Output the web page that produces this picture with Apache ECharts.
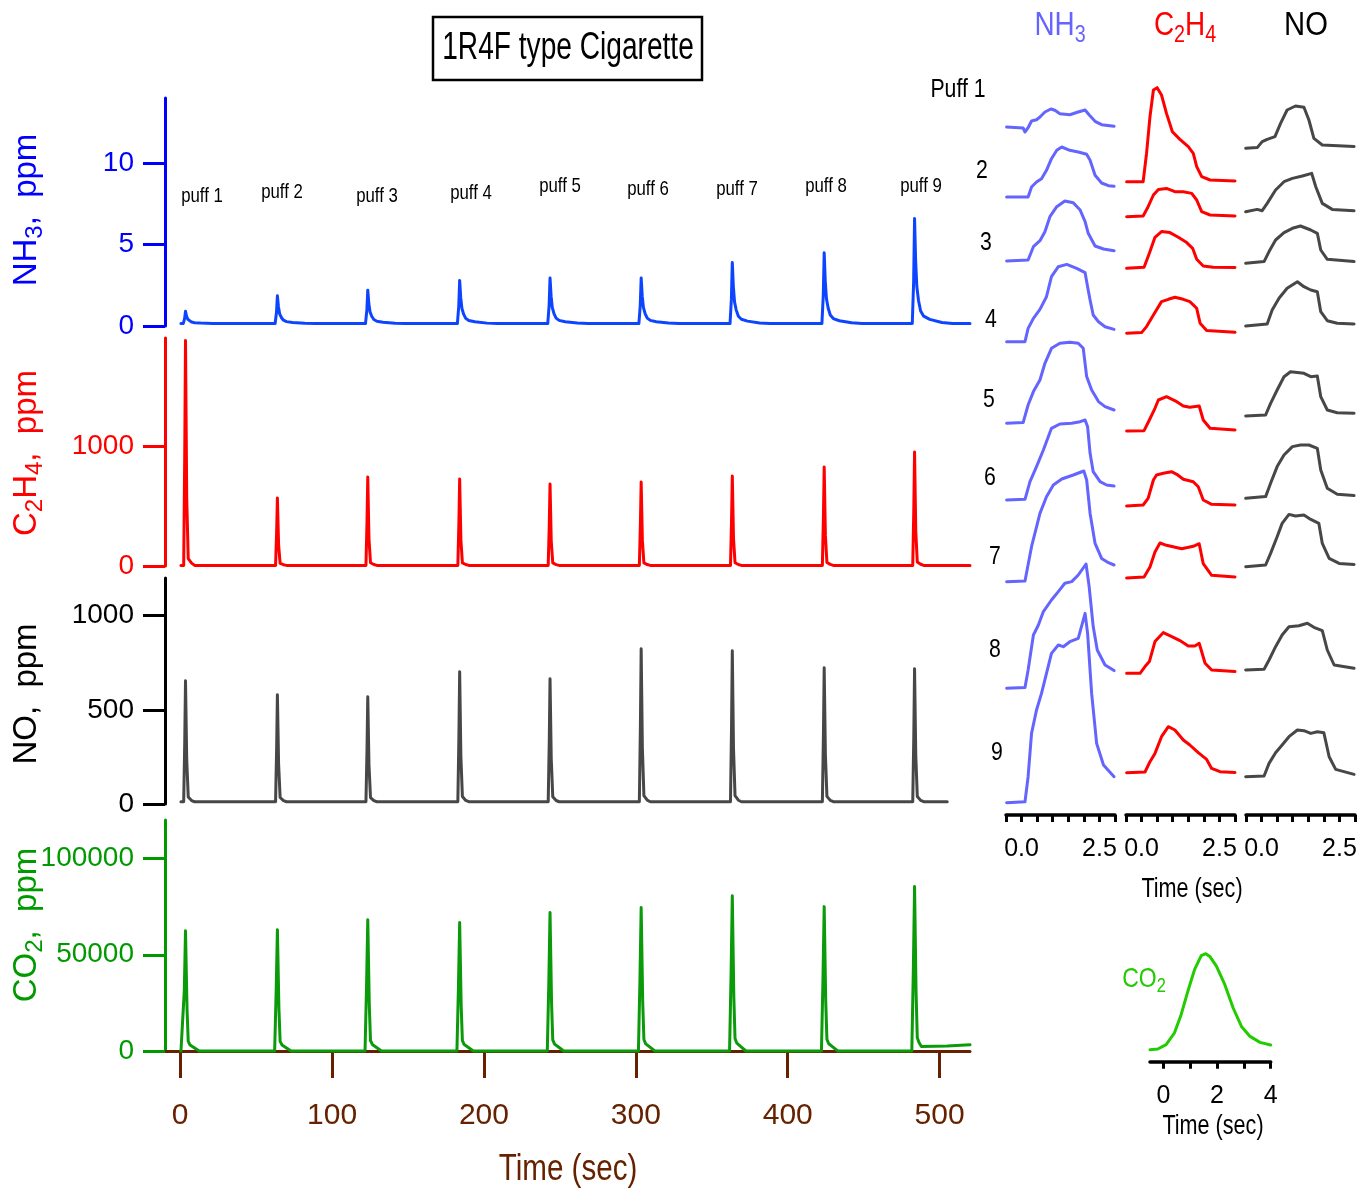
<!DOCTYPE html>
<html>
<head>
<meta charset="utf-8">
<script src="https://cdn.jsdelivr.net/npm/echarts@6/dist/echarts.min.js"></script>
<style>
html, body { margin: 0; padding: 0; background: #ffffff; }
#chart { width: 1357px; height: 1192px; }
</style>
</head>
<body>
<div id="chart"></div>
<script>
// ---------------------------------------------------------------------------
// Data: whole-run traces (time in s), one peak per puff
// ---------------------------------------------------------------------------
const puffTimes = [3.5, 64, 123.5, 184, 243.5, 303.5, 363.5, 424, 483.5];
const puffLabels = ['puff 1', 'puff 2', 'puff 3', 'puff 4', 'puff 5', 'puff 6', 'puff 7', 'puff 8', 'puff 9'];

// Peak concentration of each puff (ppm)
const nh3Peaks  = [0.9, 1.85, 2.2, 2.8, 2.95, 2.95, 3.9, 4.5, 6.6];
const c2h4Peaks = [1880, 567, 742, 725, 683, 700, 750, 825, 950];
const noPeaks   = [654, 580, 569, 702, 665, 824, 814, 723, 718];
const co2Peaks  = [62500, 63000, 68200, 66700, 71900, 74500, 80700, 75000, 85400];

// Between-puff baselines (ppm)
const nh3Base = 0.15;
const c2h4Base = 5;
const noBase = 12;
const co2Base = 0;

// Peak profiles: [seconds from the peak, fraction of the peak height above baseline]
const nh3Profile  = [[-1.5, 0], [-0.6, 0.4], [0, 1], [0.7, 0.6], [1.5, 0.35], [2.6, 0.22], [4, 0.12], [6, 0.07], [10, 0.04], [18, 0.01], [25, 0]];
const c2h4Profile = [[-1.2, 0], [-0.5, 0.5], [0, 1], [0.8, 0.3], [1.8, 0.03], [4, 0.01], [6, 0]];
const noProfile   = [[-1.2, 0], [-0.5, 0.5], [0, 1], [0.8, 0.35], [1.8, 0.04], [4, 0.01], [6, 0]];
const co2Profile  = [[-1.8, 0], [-0.8, 0.5], [0, 1], [1, 0.35], [1.8, 0.08], [3, 0.05], [6, 0.025], [9, 0]];

// Run start / end (s) and the CO2 drift after the last puff
const runStart = 0.5;
const runEnd = 520;
const noRunEnd = 505;
const co2EndDrift = [[488, 2300], [505, 2600], [520, 3200]];

// Tick values
const timeTicks = [0, 100, 200, 300, 400, 500];
const nh3Ticks = [0, 5, 10];
const c2h4Ticks = [0, 1000];
const noTicks = [0, 500, 1000];
const co2Ticks = [0, 50000, 100000];
const puffTimeTicks = [-0.5, 0, 0.5, 1.0, 1.5, 2.0, 2.5, 3.0];
const puffTimeLabels = [0, 2.5];
const co2TimeTicks = [0, 1, 2, 3, 4];
const co2TimeLabels = [0, 2, 4];

// ---------------------------------------------------------------------------
// Data: single-puff profiles (time in s, signal in a.u. above each baseline)
// ---------------------------------------------------------------------------
const nh3PuffProfiles = [
  [[-0.48,0],[0.05,-1],[0.11,-5],[0.21,-0.7],[0.32,6],[0.48,7.3],[0.59,10],[0.75,15],[0.94,18],[1.07,16.7],[1.23,13.3],[1.55,12.3],[1.79,14.7],[2.04,17],[2.18,11.7],[2.36,5.7],[2.57,2.3],[2.97,0.7]],
  [[-0.48,0],[0.21,0],[0.32,10],[0.48,15],[0.64,18.3],[0.80,26.7],[0.96,38.3],[1.13,46.7],[1.29,50],[1.55,46.7],[1.82,45],[2.09,42.7],[2.20,36.7],[2.36,21.7],[2.57,14],[2.79,11.3],[2.97,10.7]],
  [[-0.48,0],[0.21,1],[0.38,14.3],[0.59,20.3],[0.75,29.3],[0.91,44.3],[1.13,54.3],[1.39,60],[1.66,58.3],[1.88,51],[2.04,39.3],[2.14,27.7],[2.36,15],[2.63,12],[2.97,10.3]],
  [[-0.48,0],[0.11,0],[0.21,13.3],[0.38,23.3],[0.59,32.3],[0.80,45],[0.96,65],[1.18,75],[1.45,77.3],[1.77,73.3],[2.04,69],[2.12,55],[2.20,41.7],[2.30,26.7],[2.47,20],[2.68,15],[2.97,12.3]],
  [[-0.48,0],[0.05,0.7],[0.21,18.3],[0.38,31.7],[0.59,43.3],[0.75,60],[0.96,75],[1.23,80],[1.55,81],[1.82,80],[1.98,75],[2.09,46.7],[2.25,33.3],[2.47,21.7],[2.68,16.7],[2.97,13.3]],
  [[-0.48,0],[0.11,0.7],[0.27,18.3],[0.48,33.3],[0.70,50],[0.96,71.7],[1.23,76],[1.61,76.7],[1.88,78.3],[2.04,80],[2.12,73.3],[2.20,46.7],[2.30,28.3],[2.52,18.3],[2.73,15],[2.97,14]],
  [[-0.48,0],[0.11,0.7],[0.32,35],[0.59,68.3],[0.80,85],[1.02,96.7],[1.29,102.7],[1.66,106.7],[2.00,110.7],[2.09,101.7],[2.20,68.3],[2.36,38.3],[2.57,23.3],[2.79,19],[2.97,16.7]],
  [[-0.48,0],[0.11,0.7],[0.21,18.3],[0.38,53.3],[0.54,63.3],[0.70,76.7],[0.96,88.3],[1.18,96.7],[1.39,105],[1.61,106.7],[1.82,113.3],[2.07,124.3],[2.17,101.7],[2.30,61.7],[2.43,38.3],[2.68,23.3],[2.97,17.7]],
  [[-0.48,0],[0.11,1],[0.21,26],[0.32,69.3],[0.48,92.7],[0.64,109.3],[0.80,129.3],[0.96,149.3],[1.18,157.7],[1.34,156],[1.55,161],[1.82,164.3],[2.04,189.3],[2.12,169.3],[2.25,109.3],[2.41,59.3],[2.63,37.7],[2.97,26]]
];

const c2h4PuffProfiles = [
  [[-0.48,0],[0.05,0],[0.16,28.3],[0.27,65],[0.38,91.7],[0.50,94],[0.64,86.7],[0.80,68.3],[0.99,50],[1.23,42.3],[1.50,35],[1.66,28.3],[1.77,15],[1.93,5],[2.20,1.7],[3.0,0.7]],
  [[-0.48,0],[0.05,0.7],[0.21,10],[0.38,21.7],[0.54,27.3],[0.80,28.3],[1.07,25],[1.34,25],[1.61,23.3],[1.77,16.7],[1.93,5],[2.20,1.7],[3.0,0.7]],
  [[-0.48,0],[0.08,1],[0.25,15],[0.43,31],[0.64,36.7],[0.91,35.7],[1.18,31],[1.45,25.7],[1.64,20],[1.77,9],[1.98,2.3],[2.30,1],[3.0,0.7]],
  [[-0.48,0],[0,0.7],[0.16,6.7],[0.38,18.3],[0.64,31.7],[0.86,34],[1.07,36],[1.34,34],[1.55,31.7],[1.77,25],[1.88,10],[2.09,2.7],[3.0,1]],
  [[-0.48,0],[0.08,0.3],[0.25,11],[0.43,22.7],[0.54,31],[0.80,34.3],[1.13,29.3],[1.34,25],[1.55,23.7],[1.85,25],[1.98,11],[2.20,2.7],[3.0,1]],
  [[-0.48,0],[0.05,1],[0.21,7.7],[0.38,26],[0.48,31],[0.70,32.7],[0.96,34.3],[1.13,31.7],[1.34,26.7],[1.66,24.3],[1.82,19.3],[1.98,6],[2.25,1.7],[3.0,1]],
  [[-0.48,0],[0.08,1],[0.27,11],[0.43,26],[0.59,35],[0.80,32.7],[1.29,29.3],[1.66,31.7],[1.85,34.3],[1.98,14.3],[2.25,2.7],[3.0,1]],
  [[-0.48,0],[-0.05,0],[0.11,6.7],[0.25,11.7],[0.43,31.7],[0.70,40.7],[1.02,36],[1.23,32.7],[1.50,27.3],[1.71,27.3],[1.85,30],[2.04,10],[2.25,3.3],[3.0,1.7]],
  [[-0.48,0],[0.11,0.7],[0.27,11],[0.43,19.3],[0.64,36],[0.86,46],[1.07,42.7],[1.34,32.7],[1.55,27.7],[1.82,20],[2.09,13.3],[2.25,4.3],[2.52,1],[3.0,0.3]]
];

const noPuffProfiles = [
  [[-0.51,0],[-0.14,0.7],[0.02,6.7],[0.18,9],[0.43,11.7],[0.61,25],[0.82,38.3],[1.09,42.3],[1.36,41],[1.52,28.3],[1.68,10],[1.95,3.3],[2.97,1.7]],
  [[-0.51,0],[-0.14,2.3],[0.02,1],[0.18,8.3],[0.45,21.7],[0.72,30],[0.99,33.3],[1.31,35.7],[1.61,38.3],[1.74,25],[1.95,8.3],[2.27,2.3],[2.97,1]],
  [[-0.51,0],[0.08,1.7],[0.24,11.7],[0.45,23.3],[0.72,30.7],[0.99,35],[1.25,37.3],[1.58,33.3],[1.79,30],[1.90,13.3],[2.11,4],[2.97,1.7]],
  [[-0.51,0],[0.18,2],[0.34,16],[0.56,27.7],[0.82,37.7],[1.15,44.3],[1.36,39.3],[1.58,36],[1.79,34.3],[1.90,14.3],[2.11,5.3],[2.43,2.7],[2.97,2]],
  [[-0.51,0],[0.13,1],[0.29,12.7],[0.50,26],[0.72,39.3],[0.93,44.3],[1.36,42.7],[1.58,39.3],[1.79,40],[1.90,19.3],[2.11,6],[2.43,3.3],[2.97,2.7]],
  [[-0.51,0],[0.13,1.7],[0.29,15],[0.50,31.7],[0.72,43.3],[0.99,51.7],[1.25,53.3],[1.52,53.3],[1.79,50],[1.90,28.3],[2.11,10],[2.43,4],[2.97,2.7]],
  [[-0.51,0],[0.13,1.7],[0.29,13.3],[0.50,30],[0.66,43.3],[0.88,52.3],[1.09,50.7],[1.36,51.7],[1.58,47.3],[1.84,43.3],[1.95,23.3],[2.17,8.3],[2.49,3.3],[2.97,2.3]],
  [[-0.51,0],[0.08,0.7],[0.24,10],[0.45,23.3],[0.66,35],[0.88,43.3],[1.20,44.3],[1.47,46.7],[1.68,42.7],[1.95,39.3],[2.11,20],[2.33,5],[2.97,1.7]],
  [[-0.51,0],[0.08,0.7],[0.24,13.3],[0.45,24],[0.66,31.7],[0.88,40],[1.15,46.7],[1.36,46],[1.58,43.3],[1.79,45],[2.00,44],[2.17,20],[2.38,7.3],[2.97,2.3]]
];

const co2PuffProfile = [[-0.5,0],[-0.21,0.7],[0.1,5],[0.41,16.7],[0.66,35],[0.91,58.3],[1.16,80],[1.41,94],[1.58,96],[1.73,93.3],[1.98,83.3],[2.29,65],[2.6,41.7],[2.91,23.3],[3.23,13.3],[3.6,7.3],[4.0,4.7]];

const puffRowLabels = ['Puff 1', '2', '3', '4', '5', '6', '7', '8', '9'];

// ---------------------------------------------------------------------------
// Layout and styling
// ---------------------------------------------------------------------------
const SANS = '"Liberation Sans", Arial, sans-serif';

const C_NH3_AXIS = '#0000ff', C_NH3 = '#0d45ff', C_NH3_SMALL = '#6464ff';
const C_C2H4 = '#ff0000';
const C_NO = '#474747', C_NO_AXIS = '#000000';
const C_CO2 = '#0a9a0a', C_CO2_AXIS = '#009900', C_CO2_SMALL = '#22cc00';
const C_TIME = '#662200';

// page-y of each single-puff baseline, per column
const nh3RowY  = [127, 197, 261, 341.7, 423.3, 500, 581.7, 688.3, 802.7];
const c2h4RowY = [181.7, 216.7, 268.3, 333.3, 431, 506, 578, 673.3, 772.7];
const noRowY   = [148.3, 211.7, 263.3, 326, 416, 498.3, 566.7, 670, 776.7];
const colAxisY = 815, colTop = 60;
const colHeight = colAxisY - colTop;

const rowLabelPos = [[958, 90], [982, 171], [986, 243], [991, 320], [989, 400], [990, 478], [995, 557], [995, 650], [997, 753]];
const puffLabelPos = [[202, 196], [282, 192], [377, 196], [471, 193], [560, 186], [648, 189], [737, 189], [826, 186], [921, 186]];

// Whole-run trace: baseline with one scaled profile per puff; an optional
// tail replaces everything from its first time on.
function buildRun(times, peaks, profile, base, t0, t1, tail) {
  let pts = [[t0, base]];
  times.forEach(function (tp, i) {
    profile.forEach(function (p) {
      pts.push([tp + p[0], base + p[1] * (peaks[i] - base)]);
    });
  });
  if (tail) {
    pts = pts.filter(function (p) { return p[0] < tail[0][0]; }).concat(tail);
  } else {
    pts.push([t1, base]);
  }
  return pts;
}

const mainX = { min: -10, max: 520 };
const mainGrids = [
  { left: 165, top: 98,  width: 805, height: 228 },
  { left: 165, top: 338, width: 805, height: 228 },
  { left: 165, top: 578, width: 805, height: 226 },
  { left: 165, top: 820, width: 805, height: 231 }
];
const colGrids = [
  { left: 1006, top: colTop, width: 109, height: colHeight },
  { left: 1126, top: colTop, width: 109, height: colHeight },
  { left: 1246, top: colTop, width: 109, height: colHeight }
];
const insetGrid = { left: 1150, top: 949.7, width: 120.7, height: 112 };

const grids = mainGrids.concat(colGrids, [insetGrid]).map(function (g) {
  return Object.assign({ containLabel: false, outerBoundsMode: 'none' }, g);
});

const plainNumber = function (v) { return String(v); };

function yMain(gi, min, max, ticks, color) {
  return {
    type: 'value', gridIndex: gi, min: min, max: max,
    axisLine: { show: true, onZero: false, lineStyle: { color: color, width: 3 } },
    axisTick: { show: true, inside: false, length: 22, customValues: ticks, lineStyle: { color: color, width: 3 } },
    axisLabel: { show: true, customValues: ticks, margin: 31, fontSize: 28, color: color, fontFamily: SANS, formatter: plainNumber },
    splitLine: { show: false }
  };
}

const xAxes = [];
for (let i = 0; i < 3; i++) {
  xAxes.push({ type: 'value', gridIndex: i, min: mainX.min, max: mainX.max, show: false });
}
xAxes.push({
  type: 'value', gridIndex: 3, min: mainX.min, max: mainX.max, position: 'bottom',
  axisLine: { show: true, onZero: false, lineStyle: { color: C_TIME, width: 3 } },
  axisTick: { show: true, inside: false, length: 27, customValues: timeTicks, lineStyle: { color: C_TIME, width: 3 } },
  axisLabel: { show: true, customValues: timeTicks, margin: 50, fontSize: 30, color: C_TIME, fontFamily: SANS, formatter: plainNumber },
  splitLine: { show: false }
});
// single-puff columns
for (let c = 0; c < 3; c++) {
  xAxes.push({
    type: 'value', gridIndex: 4 + c, min: -0.5, max: 3.0, position: 'bottom',
    axisLine: { show: true, onZero: false, lineStyle: { color: '#000', width: 3.5 } },
    axisTick: { show: true, inside: false, length: 7, customValues: puffTimeTicks, lineStyle: { color: '#000', width: 3 } },
    axisLabel: { show: true, customValues: puffTimeLabels, margin: 22, fontSize: 25, color: '#000', fontFamily: SANS,
      formatter: function (v) { return v.toFixed(1); } },
    splitLine: { show: false }
  });
}
// CO2 inset
xAxes.push({
  type: 'value', gridIndex: 7, min: -0.5, max: 4.0, position: 'bottom',
  axisLine: { show: true, onZero: false, lineStyle: { color: '#000', width: 3.5 } },
  axisTick: { show: true, inside: false, length: 7, customValues: co2TimeTicks, lineStyle: { color: '#000', width: 3 } },
  axisLabel: { show: true, customValues: co2TimeLabels, margin: 22, fontSize: 25, color: '#000', fontFamily: SANS, formatter: plainNumber },
  splitLine: { show: false }
});

const yAxes = [
  yMain(0, 0, 14, nh3Ticks, C_NH3_AXIS),
  yMain(1, 0, 1900, c2h4Ticks, C_C2H4),
  yMain(2, 0, 1200, noTicks, C_NO_AXIS),
  yMain(3, 0, 120000, co2Ticks, C_CO2_AXIS)
];
for (let c = 0; c < 3; c++) {
  yAxes.push({ type: 'value', gridIndex: 4 + c, min: 0, max: colHeight, show: false, splitLine: { show: false } });
}
yAxes.push({ type: 'value', gridIndex: 7, min: -12, max: 100, show: false, splitLine: { show: false } });

function lineSeries(xi, yi, data, color, width) {
  return {
    type: 'line', xAxisIndex: xi, yAxisIndex: yi, data: data,
    showSymbol: false, symbol: 'none', clip: false, silent: true,
    lineStyle: { color: color, width: width || 3, join: 'round', cap: 'round' },
    animation: false
  };
}

const series = [
  lineSeries(0, 0, buildRun(puffTimes, nh3Peaks, nh3Profile, nh3Base, runStart, runEnd), C_NH3, 3),
  lineSeries(1, 1, buildRun(puffTimes, c2h4Peaks, c2h4Profile, c2h4Base, runStart, runEnd), C_C2H4, 3),
  lineSeries(2, 2, buildRun(puffTimes, noPeaks, noProfile, noBase, runStart, noRunEnd), C_NO, 3),
  lineSeries(3, 3, buildRun(puffTimes, co2Peaks, co2Profile, co2Base, runStart, runEnd, co2EndDrift), C_CO2, 3)
];

const columns = [
  { profiles: nh3PuffProfiles, rowY: nh3RowY, color: C_NH3_SMALL },
  { profiles: c2h4PuffProfiles, rowY: c2h4RowY, color: C_C2H4 },
  { profiles: noPuffProfiles, rowY: noRowY, color: C_NO }
];
columns.forEach(function (col, c) {
  col.profiles.forEach(function (prof, i) {
    const off = colAxisY - col.rowY[i];
    series.push(lineSeries(4 + c, 4 + c, prof.map(function (p) { return [p[0], off + p[1]]; }), col.color, 3));
  });
});
series.push(lineSeries(7, 7, co2PuffProfile, C_CO2_SMALL, 3));

// ---------------------------------------------------------------------------
// Text annotations (condensed type is drawn with a horizontal scale)
// ---------------------------------------------------------------------------
function subText(parts, x, y, size, color, opts) {
  const o = opts || {};
  const rich = {
    n: { fontSize: size, fontFamily: SANS, lineHeight: Math.round(size * 1.25) },
    s: { fontSize: Math.round(size * 0.72), fontFamily: SANS, verticalAlign: 'bottom', lineHeight: Math.round(size * 0.72) }
  };
  return {
    type: 'text', x: x, y: y, rotation: o.rotation || 0, scaleX: o.scaleX || 1, scaleY: o.scaleY || 1,
    silent: true, z: 10,
    style: { text: parts, rich: rich, fill: color, align: 'center', verticalAlign: 'middle' }
  };
}
function plainText(t, x, y, size, color, sx) {
  return {
    type: 'text', x: x, y: y, silent: true, z: 10, scaleX: sx || 1,
    style: { text: t, fontSize: size, fontFamily: SANS, fill: color, align: 'center', verticalAlign: 'middle' }
  };
}

const graphics = [];
// title box
graphics.push({ type: 'rect', shape: { x: 433, y: 17, width: 269, height: 63 }, style: { fill: '#fff', stroke: '#000', lineWidth: 2.5 }, z: 9, silent: true });
graphics.push(plainText('1R4F type Cigarette', 568, 49, 38, '#000', 0.74));

// axis titles (rotated)
const ROT = Math.PI / 2;
graphics.push(subText('{n|NH}{s|3}{n|,  ppm}', 27, 210, 33, C_NH3_AXIS, { rotation: ROT }));
graphics.push(subText('{n|C}{s|2}{n|H}{s|4}{n|,  ppm}', 27, 453, 33, C_C2H4, { rotation: ROT }));
graphics.push(subText('{n|NO,  ppm}', 27, 694, 33, '#000', { rotation: ROT }));
graphics.push(subText('{n|CO}{s|2}{n|,  ppm}', 27, 925, 33, C_CO2_AXIS, { rotation: ROT }));

// main time axis title
graphics.push(plainText('Time (sec)', 568, 1170, 37, C_TIME, 0.8));

// puff labels
puffLabels.forEach(function (t, i) {
  graphics.push(plainText(t, puffLabelPos[i][0], puffLabelPos[i][1], 21, '#000', 0.8));
});

// column headers
graphics.push(subText('{n|NH}{s|3}', 1060, 26, 34, C_NH3_SMALL, { scaleX: 0.82 }));
graphics.push(subText('{n|C}{s|2}{n|H}{s|4}', 1185, 26, 34, C_C2H4, { scaleX: 0.82 }));
graphics.push(subText('{n|NO}', 1306, 26, 34, '#000', { scaleX: 0.86 }));

// row labels
puffRowLabels.forEach(function (t, i) {
  graphics.push(plainText(t, rowLabelPos[i][0], rowLabelPos[i][1], 25, '#000', 0.85));
});

// column time axis title
graphics.push(plainText('Time (sec)', 1192, 890, 27, '#000', 0.8));

// CO2 inset annotations
graphics.push(subText('{n|CO}{s|2}', 1144, 979, 28, C_CO2_SMALL, { scaleX: 0.82 }));
graphics.push(plainText('Time (sec)', 1213, 1127, 27, '#000', 0.8));

const chart = echarts.init(document.getElementById('chart'), null, { renderer: 'canvas' });
chart.setOption({
  animation: false,
  backgroundColor: '#ffffff',
  grid: grids,
  xAxis: xAxes,
  yAxis: yAxes,
  series: series,
  graphic: graphics
});
</script>
</body>
</html>
